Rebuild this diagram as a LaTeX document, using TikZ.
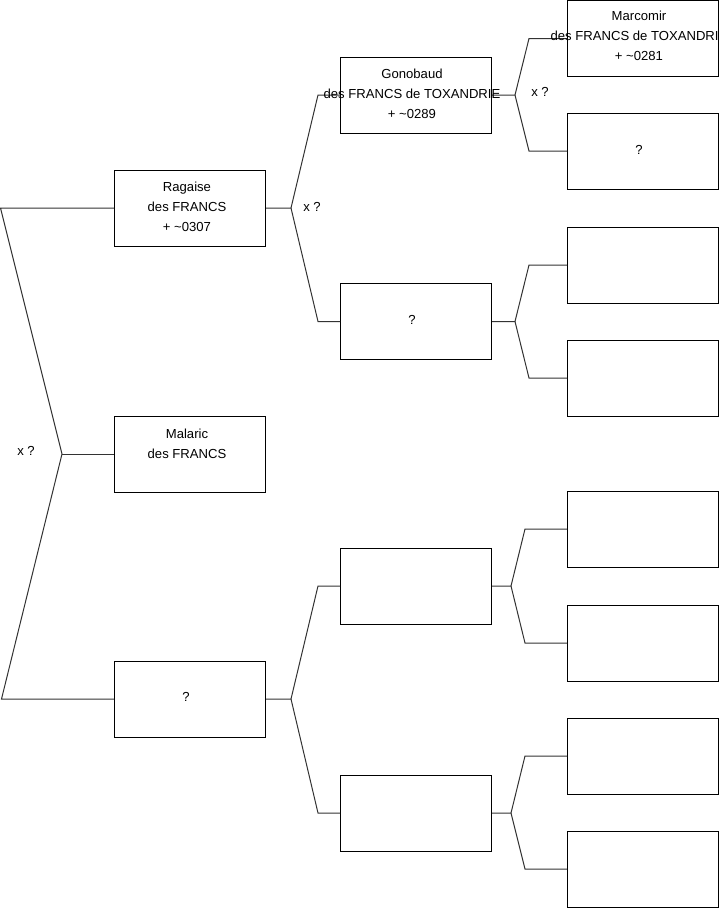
\documentclass[tikz,border=0pt]{standalone}
\usepackage{fontspec}
\setmainfont{Liberation Sans}
\begin{document}
\begin{tikzpicture}[x=1pt,y=-1pt,
  pbox/.style={draw=black,line width=1pt,minimum width=151pt,minimum height=76pt,inner sep=0pt,fill=none},
  ptext/.style={align=center,font=\fontsize{13.1}{19.8}\selectfont,inner sep=0pt},
  conn/.style={draw=black!80,line width=1pt}]
\useasboundingbox (0,0) rectangle (719,908);
% generation 1
\node[pbox] (r) at (190,208) {};
\node[pbox] (m) at (190,454) {};
\node[pbox] (q1) at (190,699) {};
% generation 2
\node[pbox] (g) at (416,95) {};
\node[pbox] (q2) at (416,321.5) {};
\node[pbox] (c2) at (416,586) {};
\node[pbox] (d2) at (416,813) {};
% generation 3
\node[pbox] (mc) at (643,38.5) {};
\node[pbox] (q3) at (643,151) {};
\node[pbox] (e1) at (643,265) {};
\node[pbox] (e2) at (643,378) {};
\node[pbox] (e3) at (643,529) {};
\node[pbox] (e4) at (643,643) {};
\node[pbox] (e5) at (643,756) {};
\node[pbox] (e6) at (643,869) {};
% connectors root
\coordinate (rt) at (0.5,208);
\coordinate (rf) at (62,454);
\coordinate (rb) at (1.5,699);
\draw[conn] (r.west) -- (rt) -- (rf) -- (rb) -- (q1.west);
\draw[conn] (rf) -- (m.west);
% Ragaise fork
\coordinate (f1) at (291,208);
\coordinate (f1a) at (318,95);
\coordinate (f1b) at (318,321.5);
\draw[conn] (r.east) -- (f1) -- (f1a) -- (g.west);
\draw[conn] (f1) -- (f1b) -- (q2.west);
% q1 fork
\coordinate (f2) at (291,699);
\coordinate (f2a) at (318,586);
\coordinate (f2b) at (318,813);
\draw[conn] (q1.east) -- (f2) -- (f2a) -- (c2.west);
\draw[conn] (f2) -- (f2b) -- (d2.west);
% Gonobaud fork
\coordinate (f3) at (515,95);
\coordinate (f3a) at (529,38.5);
\coordinate (f3b) at (529,151);
\draw[conn] (g.east) -- (f3) -- (f3a) -- (mc.west);
\draw[conn] (f3) -- (f3b) -- (q3.west);
% q2 fork
\coordinate (f4) at (515,321.5);
\coordinate (f4a) at (529,265);
\coordinate (f4b) at (529,378);
\draw[conn] (q2.east) -- (f4) -- (f4a) -- (e1.west);
\draw[conn] (f4) -- (f4b) -- (e2.west);
% c2 fork
\coordinate (f5) at (511,586);
\coordinate (f5a) at (525,529);
\coordinate (f5b) at (525,643);
\draw[conn] (c2.east) -- (f5) -- (f5a) -- (e3.west);
\draw[conn] (f5) -- (f5b) -- (e4.west);
% d2 fork
\coordinate (f6) at (511,813);
\coordinate (f6a) at (525,756);
\coordinate (f6b) at (525,869);
\draw[conn] (d2.east) -- (f6) -- (f6a) -- (e5.west);
\draw[conn] (f6) -- (f6b) -- (e6.west);
% texts
\node[ptext] (tr) at (187,207) {Ragaise\\des FRANCS\\+ \textasciitilde0307};
\node[ptext] (tm) at (187,456.5) {Malaric\\des FRANCS\\\strut};
\node[ptext] (tq1) at (186,697) {?};
\node[ptext] (tg) at (412,94) {Gonobaud\\des FRANCS de TOXANDRIE\\+ \textasciitilde0289};
\node[ptext] (tq2) at (412,320) {?};
\node[ptext] (tmc) at (639,36) {Marcomir\\des FRANCS de TOXANDRIE\\+ \textasciitilde0281};
\node[ptext] (tq3) at (639,149.5) {?};
\node[ptext] (x1) at (26,451) {x ?};
\node[ptext] (x2) at (312,207) {x ?};
\node[ptext] (x3) at (540,92) {x ?};
\end{tikzpicture}
\end{document}
